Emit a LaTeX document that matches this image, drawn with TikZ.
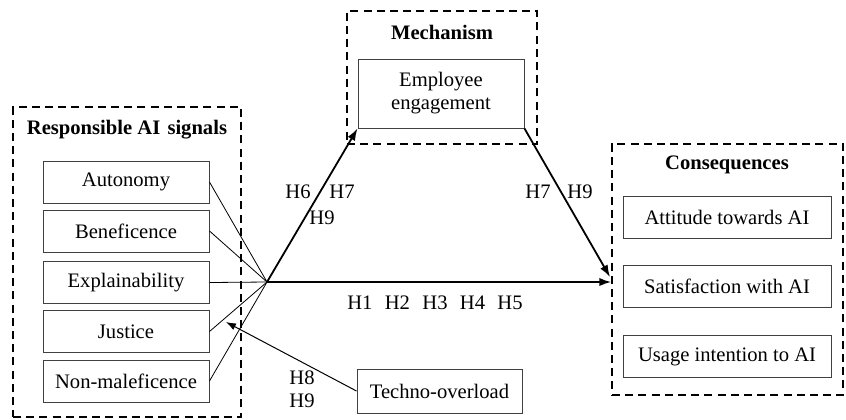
\documentclass[tikz,border=0pt]{standalone}
\usepackage{fontspec}
\setmainfont{Liberation Serif}
\usetikzlibrary{positioning, arrows.meta, calc}

\tikzset{
	groupbox/.style={rectangle, draw, dash pattern=on 4pt off 2.6pt, line width=0.75pt, inner sep=0pt},
	itembox/.style={rectangle, draw=black!75, line width=0.5pt, text centered, minimum height=21pt, inner sep=1pt},
	grouptitle/.style={font=\fontsize{10.3}{11.5}\selectfont\bfseries},
	hyp/.style={inner sep=0pt},
	mainlink/.style={draw, line width=0.9pt, -{Latex[length=6pt, width=4.2pt]}},
	signallink/.style={draw, line width=0.4pt},
}

\begin{document}
\begin{tikzpicture}[x=0.5pt, y=-0.5pt, font=\fontsize{10.3}{11.5}\selectfont]
		\useasboundingbox (0,0) rectangle (846,419);
		
		%Group boxes
		\node [groupbox, minimum width=114pt, minimum height=155pt] (signals) at (127,262) {};
		\node [groupbox, minimum width=95pt, minimum height=66.5pt] (mechanism) at (442,77.5) {};
		\node [groupbox, minimum width=115.5pt, minimum height=125.5pt] (consequences) at (727.5,269.5) {};
		
		\node [grouptitle] (signalsTitle) at (127,130) {Responsible AI\hspace{0.1em} signals};
		\node [grouptitle] (mechanismTitle) at (442,32) {Mechanism};
		\node [grouptitle] (consequencesTitle) at (727,165) {Consequences};
		
		%Signal nodes
		\node [itembox, minimum width=83pt] (autonomy) at (126,182) {Autonomy};
		\node [itembox, minimum width=83pt] (beneficence) at (126,231) {Beneficence};
		\node [itembox, minimum width=83pt] (explainability) at (126,282.5) {Explainability};
		\node [itembox, minimum width=83pt] (justice) at (126,331.5) {Justice};
		\node [itembox, minimum width=83pt] (nonMaleficence) at (126,381) {Non-maleficence};
		
		%Mechanism and moderator nodes
		\node [itembox, minimum width=83pt, minimum height=34.5pt, align=center] 
		(engagement) at (441,93.5) {Employee\\engagement};
		\node [itembox, minimum width=82.5pt, minimum height=22pt] (technoOverload) at (439.5,391) {Techno-overload};
		
		%Consequence nodes
		\node [itembox, minimum width=104pt] (attitude) at (727,217) {Attitude towards AI};
		\node [itembox, minimum width=104pt] (satisfaction) at (727,286.5) {Satisfaction with AI};
		\node [itembox, minimum width=104pt] (usage) at (727,356.5) {Usage intention to AI};
		
		\coordinate (hub) at (267,282);
		\coordinate (conIn) at (610,277);
		\coordinate (modTip) at (226,322);
		
		%Links
		\path [signallink] (autonomy.east) -- (hub);
		\path [signallink] (beneficence.east) -- (hub);
		\path [signallink] (explainability.east) -- (hub);
		\path [signallink] (justice.east) -- (hub);
		\path [signallink] (nonMaleficence.east) -- (hub);
		\path [mainlink] (hub) -- (hub -| consequences.west);
		\path [mainlink] (hub) -- (engagement.south west);
		\path [mainlink] (engagement.south east) -- (conIn);
		\path [draw, line width=0.5pt, -{Latex[length=5pt, width=3.6pt]}] (technoOverload.west) -- (modTip);
		
		%Hypotheses
		\node [hyp] (h6a) at (298,192) {H6};
		\node [hyp] (h7a) at (342,192) {H7};
		\node [hyp] (h9a) at (322,218) {H9};
		\node [hyp] (h7b) at (538,192) {H7};
		\node [hyp] (h9b) at (580,192) {H9};
		\node [hyp] (hMain) at (435,303) {H1\hspace{0.6em}H2\hspace{0.6em}H3\hspace{0.6em}H4\hspace{0.6em}H5};
		\node [hyp, align=left] (h8h9) at (302,389) {H8\\H9};
		
\end{tikzpicture}
\end{document}
